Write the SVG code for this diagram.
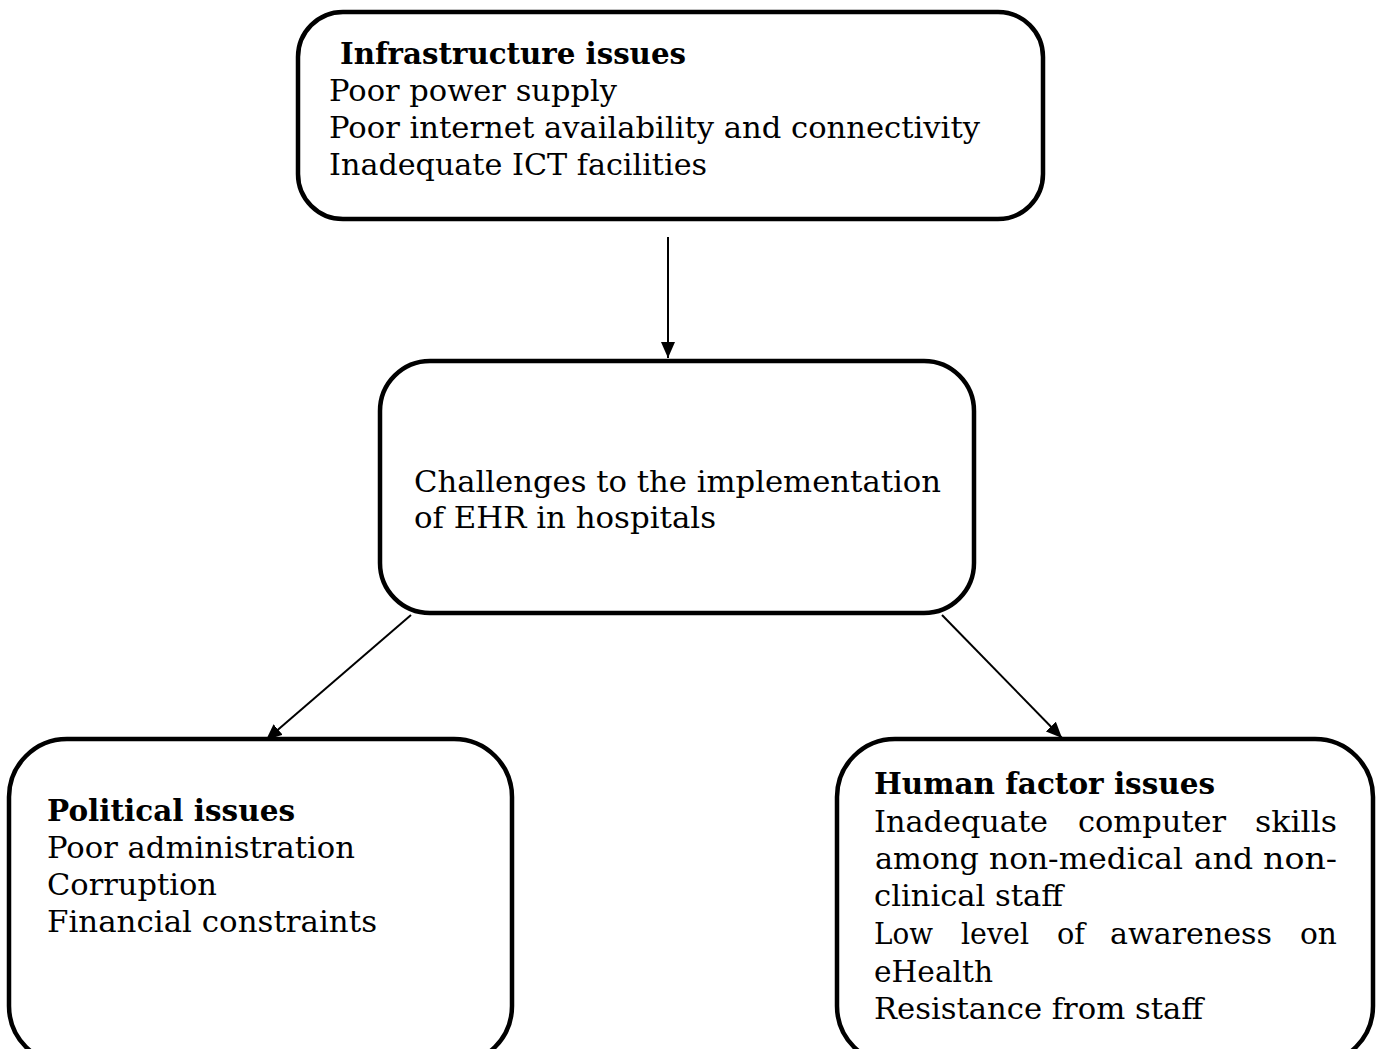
<svg xmlns="http://www.w3.org/2000/svg" width="1378" height="1049" viewBox="0 0 1378 1049">
<style>
.box{fill:#fff;stroke:#000;stroke-width:4.5}
.t{font-family:"DejaVu Serif","Liberation Serif",serif;font-size:29px;fill:#000}
.b{font-weight:bold}
.c{stroke:#000;stroke-width:2;fill:none}
</style>
<defs>
<marker id="ah" viewBox="0 0 16 14" refX="16" refY="7" markerWidth="16" markerHeight="14" markerUnits="userSpaceOnUse" orient="auto">
<path d="M0,0 L16,7 L0,14 z" fill="#000"/>
</marker>
</defs>
<rect width="1378" height="1049" fill="#fff"/>
<g id="connectors">
<line class="c" x1="668" y1="237" x2="668" y2="358" marker-end="url(#ah)"/>
<line class="c" x1="411" y1="615" x2="266" y2="740" marker-end="url(#ah)"/>
<line class="c" x1="942" y1="615" x2="1062" y2="738" marker-end="url(#ah)"/>
</g>
<g id="infrastructure">
<rect class="box" x="298" y="12" width="745" height="207" rx="45"/>
<text class="t b" x="340" y="64" textLength="346" lengthAdjust="spacingAndGlyphs">Infrastructure issues</text>
<text class="t" x="329" y="101" textLength="288" lengthAdjust="spacingAndGlyphs">Poor power supply</text>
<text class="t" x="329" y="138" textLength="651" lengthAdjust="spacingAndGlyphs">Poor internet availability and connectivity</text>
<text class="t" x="329" y="175" textLength="378" lengthAdjust="spacingAndGlyphs">Inadequate ICT facilities</text>
</g>
<g id="challenges">
<rect class="box" x="380" y="361" width="594" height="252" rx="50"/>
<text class="t" x="414" y="492" textLength="527" lengthAdjust="spacingAndGlyphs">Challenges to the implementation</text>
<text class="t" x="414" y="528" textLength="302" lengthAdjust="spacingAndGlyphs">of EHR in hospitals</text>
</g>
<g id="political">
<rect class="box" x="9" y="739" width="503" height="325" rx="58"/>
<text class="t b" x="47" y="821" textLength="248" lengthAdjust="spacingAndGlyphs">Political issues</text>
<text class="t" x="47" y="858" textLength="308" lengthAdjust="spacingAndGlyphs">Poor administration</text>
<text class="t" x="47" y="895" textLength="170" lengthAdjust="spacingAndGlyphs">Corruption</text>
<text class="t" x="47" y="932" textLength="330" lengthAdjust="spacingAndGlyphs">Financial constraints</text>
</g>
<g id="human">
<rect class="box" x="837" y="739" width="536" height="325" rx="58"/>
<text class="t b" x="874" y="794" textLength="341" lengthAdjust="spacingAndGlyphs">Human factor issues</text>
<text class="t" y="832"><tspan x="874" textLength="174" lengthAdjust="spacingAndGlyphs">Inadequate</tspan><tspan x="1078" textLength="148" lengthAdjust="spacingAndGlyphs">computer</tspan><tspan x="1255" textLength="82" lengthAdjust="spacingAndGlyphs">skills</tspan></text>
<text class="t" y="869"><tspan x="875" textLength="104" lengthAdjust="spacingAndGlyphs">among</tspan><tspan x="989" textLength="194" lengthAdjust="spacingAndGlyphs">non-medical</tspan><tspan x="1194" textLength="59" lengthAdjust="spacingAndGlyphs">and</tspan><tspan x="1263" textLength="74" lengthAdjust="spacingAndGlyphs">non-</tspan></text>
<text class="t" x="874" y="906" textLength="189" lengthAdjust="spacingAndGlyphs">clinical staff</text>
<text class="t" y="944"><tspan x="874" textLength="59" lengthAdjust="spacingAndGlyphs">Low</tspan><tspan x="961" textLength="68" lengthAdjust="spacingAndGlyphs">level</tspan><tspan x="1057" textLength="28" lengthAdjust="spacingAndGlyphs">of</tspan><tspan x="1110" textLength="162" lengthAdjust="spacingAndGlyphs">awareness</tspan><tspan x="1300" textLength="37" lengthAdjust="spacingAndGlyphs">on</tspan></text>
<text class="t" x="874" y="982" textLength="119" lengthAdjust="spacingAndGlyphs">eHealth</text>
<text class="t" x="874" y="1019" textLength="329" lengthAdjust="spacingAndGlyphs">Resistance from staff</text>
</g>
</svg>
